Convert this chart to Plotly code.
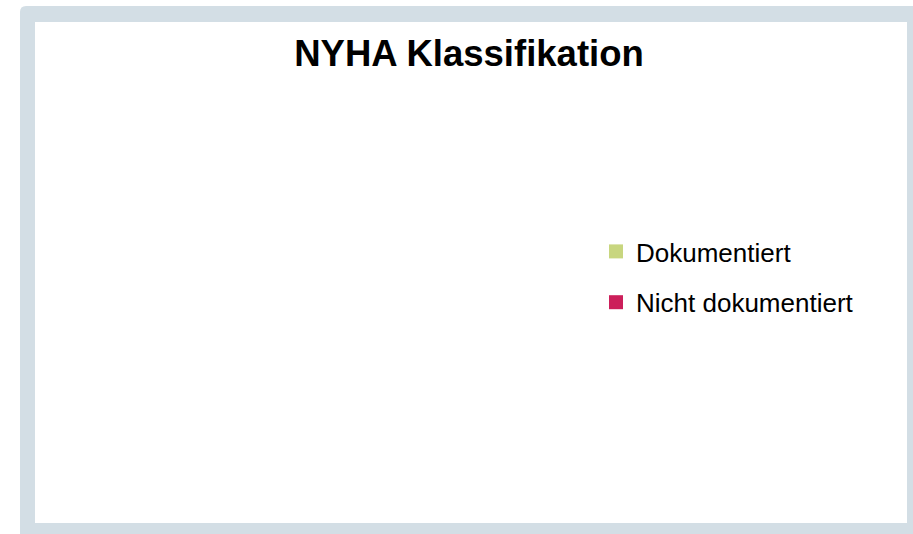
import plotly.graph_objects as go

W, H = 913, 534

labels = ["Dokumentiert", "Nicht dokumentiert"]
values = [0, 0]
colors = ["#c8d67f", "#cc1f5a"]
title_text = "NYHA Klassifikation"

FRAME = "#d3dee5"

def px(x):
    return x / W

def py(y):
    return 1 - y / H

fig = go.Figure()
# the pie itself (no documented values -> nothing drawn)
fig.add_trace(go.Pie(
    labels=labels,
    values=values,
    marker=dict(colors=colors),
    sort=False,
    textinfo="none",
    showlegend=False,
    domain=dict(x=[0.05, 0.6], y=[0.1, 0.8]),
))
# legend entries for the categories
for lab, col in zip(labels, colors):
    fig.add_trace(go.Scatter(
        x=[None], y=[None], mode="markers", name=lab, legendgroup=lab,
        marker=dict(symbol="square", size=14, color=col, line=dict(width=0)),
    ))

# outer rounded frame
r = 6
x0, y0, x1, y1 = 20, 6, 930, 550
path = (f"M {px(x0)},{py(y0 + r)} Q {px(x0)},{py(y0)} {px(x0 + r)},{py(y0)} "
        f"L {px(x1)},{py(y0)} L {px(x1)},{py(y1)} L {px(x0)},{py(y1)} Z")
shapes = [
    dict(type="path", xref="paper", yref="paper", path=path,
         fillcolor=FRAME, line=dict(width=0), layer="below"),
    dict(type="rect", xref="paper", yref="paper",
         x0=px(35), x1=px(907), y0=py(22), y1=py(523),
         fillcolor="white", line=dict(width=0), layer="below"),
]

fig.update_layout(
    width=W, height=H,
    margin=dict(l=0, r=0, t=0, b=0),
    paper_bgcolor="white",
    plot_bgcolor="rgba(0,0,0,0)",
    font=dict(family="Liberation Sans, Arial, sans-serif", color="#000000"),
    title=dict(text=f"<b>{title_text}</b>", x=px(469), xanchor="center",
               y=py(53), yanchor="middle",
               font=dict(size=36.5, color="#000000")),
    xaxis=dict(visible=False),
    yaxis=dict(visible=False),
    shapes=shapes,
    showlegend=True,
    legend=dict(x=px(596), y=py(277), xanchor="left", yanchor="middle",
                font=dict(size=26, color="#000000"),
                tracegroupgap=14,
                bgcolor="rgba(0,0,0,0)"),
)

fig.write_html("out.html", config={"displayModeBar": False},
               post_script="document.body.style.margin='0';")
